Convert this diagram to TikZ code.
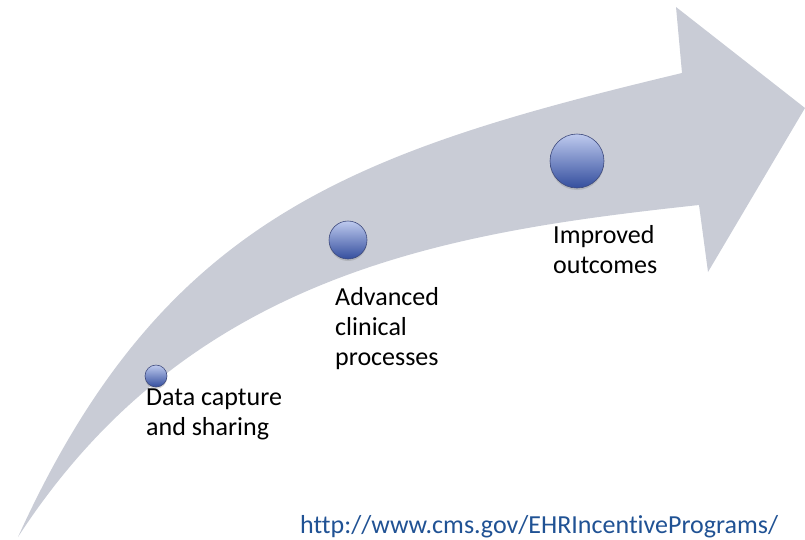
\documentclass[tikz,border=0pt]{standalone}
\usepackage{fontspec}
\setmainfont{Carlito}[Ligatures=NoCommon]
\usepackage{tikz}
\usetikzlibrary{shadows}

\definecolor{arrowgray}{RGB}{201,204,214}
\definecolor{balltop}{RGB}{190,202,238}
\definecolor{ballmid}{RGB}{118,138,205}
\definecolor{ballbottom}{RGB}{52,78,158}
\definecolor{ballrim}{RGB}{62,74,125}
\definecolor{urlblue}{RGB}{32,82,148}

\begin{document}
\begin{tikzpicture}[x=1pt,y=-1pt,
    ball/.style={circle,inner sep=0pt,top color=balltop,middle color=ballmid,bottom color=ballbottom,
        draw=ballrim,line width=0.6pt,
        drop shadow={opacity=0.3,shadow xshift=0pt,shadow yshift=-2pt}},
    lbl/.style={anchor=north west,inner sep=0pt,align=left,font=\fontsize{26}{30}\selectfont}]
        \useasboundingbox (0,0) rectangle (805,539);

        % the big curved arrow
        \fill[arrowgray] (18,537) .. controls (163,218) and (352,152) .. (682,73)
            -- (676,7) -- (805,108) -- (708,272) -- (699,205)
            .. controls (449,232) and (190,272) .. (18,537) -- cycle;

        % edit here for the balls
        \foreach \n/\x/\y/\r in {capture/156/376/11, clinical/348/240/19, outcomes/577/161/27}
        \node[ball,minimum size=2*\r pt] (\n) at (\x,\y) {};

        \node[lbl] (capturetext) at (146,389) {Data capture\\and sharing};
        \node[lbl] (clinicaltext) at (335,287) {Advanced\\clinical\\processes};
        \node[lbl] (outcomestext) at (553,225) {Improved\\outcomes};

        \node[anchor=base west,inner sep=0pt,text=urlblue,font=\fontsize{26}{30}\selectfont] (url) at (300,533) {http://www.cms.gov/EHRIncentivePrograms/};
    \end{tikzpicture}
\end{document}
